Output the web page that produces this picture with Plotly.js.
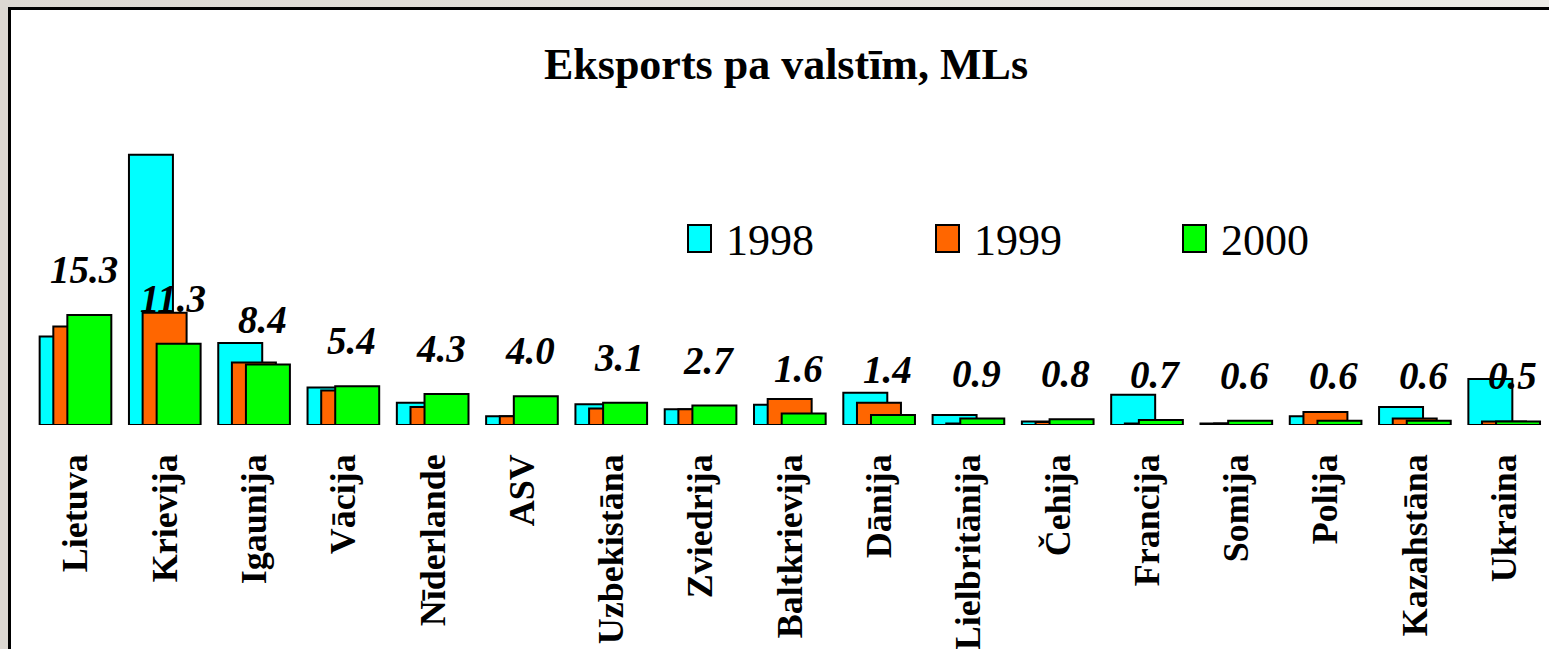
<!DOCTYPE html>
<html>
<head>
<meta charset="utf-8">
<script src="https://cdn.plot.ly/plotly-3.0.1.min.js"></script>
<style>
  html, body { margin: 0; padding: 0; background: #ffffff; overflow: hidden; }
  #chart { position: absolute; left: 0; top: 0; width: 1549px; height: 649px; }
  .ov { position: absolute; pointer-events: none; }
</style>
</head>
<body>
<div id="chart"></div>
<div class="ov" style="left:0;top:0;width:8px;height:649px;background:#dcd8d2;"></div>
<div class="ov" style="left:0;top:0;width:1549px;height:7px;background:linear-gradient(to right,#dcd8d2,#ecebe6);"></div>
<div class="ov" style="left:8px;top:7px;width:1541px;height:3px;background:#000;"></div>
<div class="ov" style="left:8px;top:7px;width:3px;height:642px;background:#000;"></div>
<script>
const categories = ["Lietuva","Krievija","Igaunija","Vācija","Nīderlande","ASV","Uzbekistāna","Zviedrija","Baltkrievija","Dānija","Lielbritānija","Čehija","Francija","Somija","Polija","Kazahstāna","Ukraina"];
const seriesNames = ["1998","1999","2000"];
const v1998 = [12.3, 37.6, 11.4, 5.2, 3.1, 1.2, 2.9, 2.2, 2.8, 4.5, 1.4, 0.5, 4.2, 0.2, 1.2, 2.5, 6.4];
const v1999 = [13.7, 15.6, 8.7, 4.8, 2.5, 1.2, 2.3, 2.2, 3.6, 3.1, 0.2, 0.4, 0.2, 0.2, 1.8, 0.9, 0.5];
const v2000 = [15.3, 11.3, 8.4, 5.4, 4.3, 4.0, 3.1, 2.7, 1.6, 1.4, 0.9, 0.8, 0.7, 0.6, 0.6, 0.6, 0.5];
const labels2000 = ["15.3","11.3","8.4","5.4","4.3","4.0","3.1","2.7","1.6","1.4","0.9","0.8","0.7","0.6","0.6","0.6","0.5"];
const colors = ["#00ffff","#ff6600","#00ff00"];

const serif = "Liberation Serif, Times New Roman, serif";
const values = [v1998, v1999, v2000];
const offsets = [-0.403, -0.25, -0.093];

const traces = values.map((v, i) => ({
  type: "bar",
  name: seriesNames[i],
  x: categories,
  y: v,
  width: 0.4925,
  offset: offsets[i],
  marker: { color: colors[i], line: { color: "#000", width: 2 } },
  hoverinfo: "x+y+name"
}));

// plot area in pixels
const L = 31, R = 1549, T = 100, B = 425;
const px = x => (x - L) / (R - L);
const py = y => (B - y) / (B - T);

const annotations = categories.map((c, i) => ({
  x: c, y: v2000[i], xref: "x", yref: "y",
  text: "<b><i>" + labels2000[i] + "</i></b>",
  showarrow: false, xanchor: "center", yanchor: "bottom",
  xshift: 8, yshift: 22,
  font: { family: serif, size: 39, color: "#000" }
}));

const legendX = [688, 936, 1183];
const shapes = [];
seriesNames.forEach((n, i) => {
  shapes.push({
    type: "rect", xref: "paper", yref: "paper",
    x0: px(legendX[i]), x1: px(legendX[i] + 23),
    y0: py(252), y1: py(225),
    fillcolor: colors[i], line: { color: "#000", width: 2 }
  });
  annotations.push({
    xref: "paper", yref: "paper",
    x: px(legendX[i] + 36), y: py(240),
    xanchor: "left", yanchor: "middle",
    text: n, showarrow: false,
    font: { family: serif, size: 44, color: "#000" }
  });
});

const layout = {
  width: 1549, height: 649,
  paper_bgcolor: "#ffffff", plot_bgcolor: "rgba(0,0,0,0)",
  margin: { l: L, r: 1549 - R, t: T, b: 649 - B, pad: 0 },
  title: {
    text: "<b>Eksports pa valstīm, MLs</b>",
    font: { family: serif, size: 44, color: "#000" },
    xref: "container", yref: "container",
    x: 786 / 1549, xanchor: "center",
    y: 1 - 64 / 649, yanchor: "middle"
  },
  barmode: "overlay",
  showlegend: false,
  xaxis: {
    type: "category",
    range: [-0.5, categories.length - 0.5],
    tickangle: -90,
    tickfont: { family: serif, size: 36, color: "#000", weight: "bold" },
    ticks: "", showline: false, showgrid: false, zeroline: false,
    ticklabelstandoff: 21
  },
  yaxis: {
    range: [0, (B - T) / 7.19],
    visible: false, showgrid: false, zeroline: false
  },
  annotations: annotations,
  shapes: shapes
};

Plotly.newPlot("chart", traces, layout, { displayModeBar: false, staticPlot: true });
</script>
</body>
</html>
